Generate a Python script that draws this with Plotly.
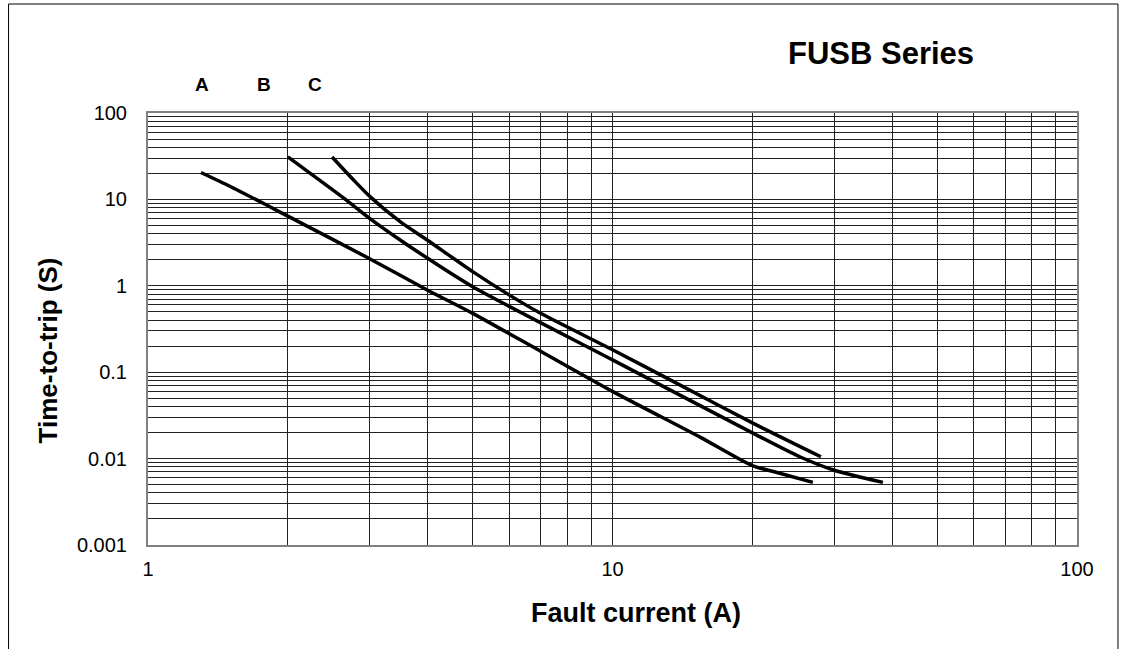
import plotly.graph_objects as go

# ---- data ----
curve_a_x = [1.3, 1.5, 1.8, 2.0, 3.0, 4.0, 5.0, 7.0, 10.0, 15.5, 20.0, 22.6, 27.0]
curve_a_y = [20.5, 14.2, 8.6, 6.4, 2.06, 0.89, 0.48, 0.175, 0.06, 0.0175, 0.0083, 0.0069, 0.0053]

curve_b_x = [2.0, 2.66, 3.0, 3.49, 4.0, 5.0, 10.0, 20.1, 25.3, 29.9, 38.2]
curve_b_y = [31.0, 10.0, 6.04, 3.39, 2.08, 0.976, 0.139, 0.0196, 0.0105, 0.00738, 0.0053]

curve_c_x = [2.49, 2.77, 3.01, 3.49, 3.99, 5.0, 6.0, 7.0, 10.0, 13.76, 20.1, 28.1]
curve_c_y = [31.0, 16.8, 10.7, 5.52, 3.39, 1.46, 0.78, 0.481, 0.182, 0.0743, 0.0256, 0.0105]

curve_labels = ["A", "B", "C"]

x_major = [1, 10, 100]
x_major_text = ["1", "10", "100"]
y_major = [0.001, 0.01, 0.1, 1, 10, 100]
y_major_text = ["0.001", "0.01", "0.1", "1", "10", "100"]

title_text = "FUSB Series"
x_title = "Fault current (A)"
y_title = "Time-to-trip (S)"

FONT = "Liberation Sans, Arial, Helvetica, sans-serif"


def log_grid(majors):
    vals = []
    for i, m in enumerate(majors):
        if i == len(majors) - 1:
            vals.append(m)
            break
        for k in range(1, 10):
            vals.append(round(m * k, 6))
    return vals


x_vals = log_grid(x_major)
x_text = [x_major_text[x_major.index(v)] if v in x_major else "" for v in x_vals]
y_vals = log_grid(y_major)
y_text = [y_major_text[y_major.index(v)] if v in y_major else "" for v in y_vals]

fig = go.Figure()
for xs, ys in [(curve_a_x, curve_a_y), (curve_b_x, curve_b_y), (curve_c_x, curve_c_y)]:
    fig.add_trace(go.Scatter(x=xs, y=ys, mode="lines",
                             line=dict(color="black", width=3.5, shape="spline", smoothing=0.7),
                             showlegend=False, hoverinfo="skip"))

fig.update_layout(
    width=1126, height=649,
    margin=dict(l=148, r=49, t=113, b=104),
    paper_bgcolor="white", plot_bgcolor="white",
    font=dict(family=FONT, color="black", size=20),
    showlegend=False,
)

fig.update_xaxes(type="log", range=[0, 2], tickmode="array", tickvals=x_vals, ticktext=x_text,
                 showgrid=True, gridcolor="#222222", gridwidth=1,
                 showline=True, linecolor="#808080", linewidth=2, mirror=True,
                 ticks="", ticklabelstandoff=5, zeroline=False,
                 tickfont=dict(size=20, family=FONT, color="black"))
fig.update_yaxes(type="log", range=[-3, 2], tickmode="array", tickvals=y_vals, ticktext=y_text,
                 showgrid=True, gridcolor="#222222", gridwidth=1,
                 showline=True, linecolor="#808080", linewidth=2, mirror=True,
                 ticks="", ticklabelstandoff=15, zeroline=False,
                 tickfont=dict(size=20, family=FONT, color="black"))

# outer frame
fig.add_shape(type="rect", xref="paper", yref="paper",
              x0=-0.1501, x1=1.0441, y0=-0.30, y1=1.2523,
              line=dict(color="black", width=1), fillcolor="rgba(0,0,0,0)", layer="below")

ann = []
ann.append(dict(text=title_text, x=0.789, y=1.137, xref="paper", yref="paper",
                showarrow=False, xanchor="center", yanchor="middle",
                font=dict(size=31, family=FONT, color="black", weight="bold")))
for lab, px in zip(curve_labels, [0.0576, 0.125, 0.1802]):
    ann.append(dict(text=lab, x=px, y=1.0671, xref="paper", yref="paper",
                    showarrow=False, xanchor="center", yanchor="middle",
                    font=dict(size=19, family=FONT, color="black", weight="bold")))
ann.append(dict(text=y_title, x=-0.1081, y=0.4495, xref="paper", yref="paper",
                showarrow=False, xanchor="center", yanchor="middle", textangle=-90,
                font=dict(size=26, family=FONT, color="black", weight="bold")))
ann.append(dict(text=x_title, x=0.5248, y=-0.1574, xref="paper", yref="paper",
                showarrow=False, xanchor="center", yanchor="middle",
                font=dict(size=27, family=FONT, color="black", weight="bold")))
fig.update_layout(annotations=ann)

fig.write_html("out.html", config={"displayModeBar": False},
               post_script="document.body.style.margin='0';document.body.style.overflow='hidden';")
